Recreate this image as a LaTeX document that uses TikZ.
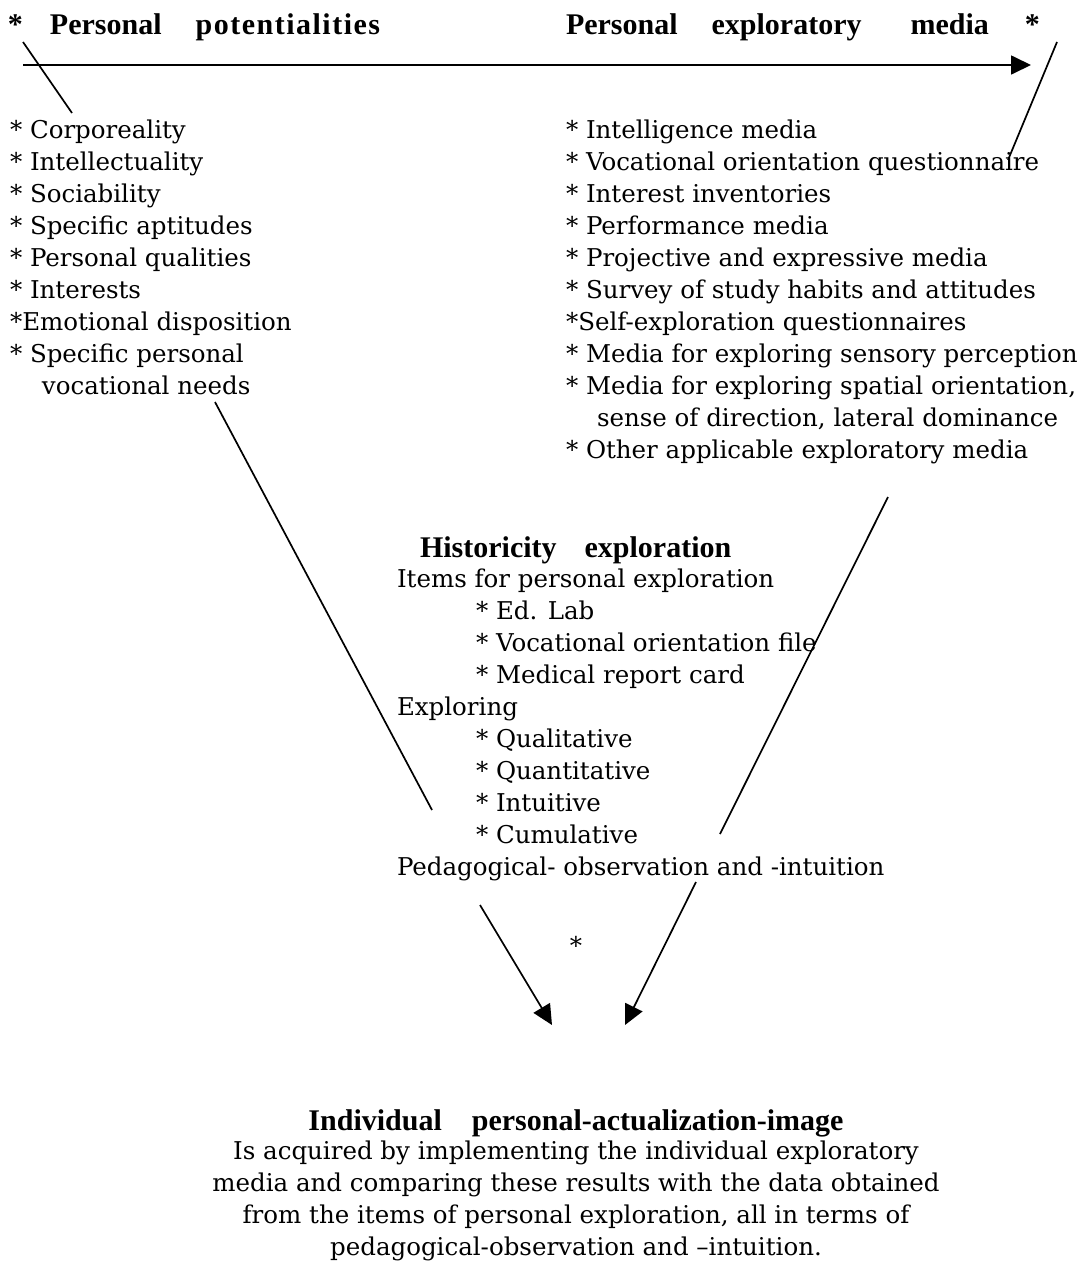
\documentclass[tikz,border=0pt]{standalone}
\usepackage{fontspec}
\setmainfont{DejaVu Serif}
\newfontfamily\headfont{Liberation Serif}
\newfontfamily\headspaced[LetterSpace=5]{Liberation Serif}
\usetikzlibrary{arrows.meta}

\begin{document}
\begin{tikzpicture}[x=1pt,y=-1pt,
  body/.style={inner sep=0pt, outer sep=0pt, font=\fontsize{24.5}{32}\selectfont, align=left, anchor=base west},
  bodyc/.style={inner sep=0pt, outer sep=0pt, font=\fontsize{24.5}{32}\selectfont, align=center, anchor=base},
  headline/.style={inner sep=0pt, outer sep=0pt, font=\headfont\bfseries\fontsize{30}{32}\selectfont, anchor=base west},
  link/.style={line width=1.7pt},
  tipped/.style={link, -{Triangle[length=20pt,width=19pt]}}]
\useasboundingbox (0,0) rectangle (1081,1264);

% headings along the top axis
\node[headline] (headL) at (8,34) {*\hspace{27pt}Personal\hspace{34pt}{\headspaced\bfseries potentialities}};
\node[headline] (headR) at (566,34) {Personal\hspace{34pt}exploratory\hspace{49pt}media\hspace{36pt}*};

% the two lists (a multi-line node sits on the baseline of its last line)
\node[body] (listL) at (10,394) {* Corporeality\\
* Intellectuality\\
* Sociability\\
* Specific aptitudes\\
* Personal qualities\\
* Interests\\
*Emotional disposition\\
* Specific personal\\
\hspace*{32pt}vocational needs};

\node[body] (listR) at (566,458) {* Intelligence media\\
* Vocational orientation questionnaire\\
* Interest inventories\\
* Performance media\\
* Projective and expressive media\\
* Survey of study habits and attitudes\\
*Self-exploration questionnaires\\
* Media for exploring sensory perception\\
* Media for exploring spatial orientation,\\
\hspace*{31pt}sense of direction, lateral dominance\\
* Other applicable exploratory media};

% historicity block
\node[headline] (histH) at (420,557) {Historicity\hspace{28pt}exploration};
\node[body] (histB) at (397,875) {Items for personal exploration\\
\hspace*{79pt}* Ed. Lab\\
\hspace*{79pt}* Vocational orientation file\\
\hspace*{79pt}* Medical report card\\
Exploring\\
\hspace*{79pt}* Qualitative\\
\hspace*{79pt}* Quantitative\\
\hspace*{79pt}* Intuitive\\
\hspace*{79pt}* Cumulative\\
Pedagogical- observation and -intuition};

% meeting point and result
\node[bodyc] (star) at (576,954) {*};
\node[headline, anchor=base] (finH) at (576,1130) {Individual\hspace{30pt}personal-actualization-image};
\node[bodyc] (finB) at (576,1255) {Is acquired by implementing the individual exploratory\\
media and comparing these results with the data obtained\\
from the items of personal exploration, all in terms of\\
pedagogical-observation and –intuition.};

% line end points
\coordinate (axisS) at (23,65);
\coordinate (axisE) at (1031,65);
\coordinate (tl1) at (23,42);
\coordinate (tl2) at (72,113);
\coordinate (tr1) at (1057,42);
\coordinate (tr2) at (1008,160);
\coordinate (bl1) at (215,402);
\coordinate (bl2) at (432,810);
\coordinate (br1) at (888,497);
\coordinate (br2) at (720,834);
\coordinate (al1) at (480,905);
\coordinate (al2) at (552,1025);
\coordinate (ar1) at (696,882);
\coordinate (ar2) at (625,1025);

\draw[tipped] (axisS) -- (axisE);
\draw[link] (tl1) -- (tl2);
\draw[link] (tr1) -- (tr2);
\draw[link] (bl1) -- (bl2);
\draw[link] (br1) -- (br2);
\draw[tipped] (al1) -- (al2);
\draw[tipped] (ar1) -- (ar2);
\end{tikzpicture}
\end{document}
